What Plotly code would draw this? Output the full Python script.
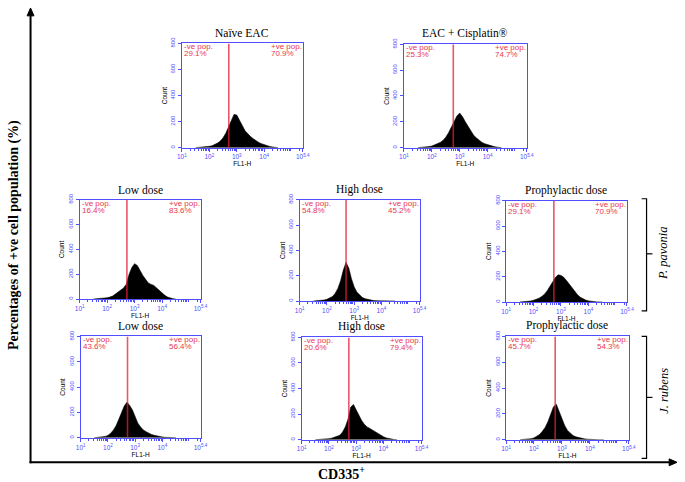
import plotly.graph_objects as go

W, H = 685, 482

# ---------------- data ----------------
BIN_LOG = [1.5, 1.6, 1.7, 1.8, 1.9, 2.0, 2.1, 2.2, 2.3, 2.4, 2.5, 2.6, 2.7, 2.8, 2.9, 3.0,
           3.1, 3.2, 3.3, 3.4, 3.5, 3.6, 3.7, 3.8, 3.9, 4.0, 4.1, 4.2, 4.3, 4.4, 4.5]

PANEL_TITLES = ["Naïve EAC", "EAC + Cisplatin®", "Low dose", "High dose",
                "Prophylactic dose", "Low dose", "High dose", "Prophylactic dose"]
NEG_PCT = ["29.1%", "25.3%", "16.4%", "54.8%", "29.1%", "43.6%", "20.6%", "45.7%"]
POS_PCT = ["70.9%", "74.7%", "83.6%", "45.2%", "70.9%", "56.4%", "79.4%", "54.3%"]
GATE_LOG = [2.71, 2.77, 2.72, 2.70, 2.74, 2.72, 2.73, 2.76]

COUNTS_NAIVE = [0, 1, 2, 4, 6, 10, 14, 22, 35, 50, 75, 110, 160, 215, 255, 250,
                215, 170, 130, 105, 85, 68, 52, 40, 30, 22, 14, 9, 5, 2, 0]
COUNTS_CISPLATIN = [0, 1, 2, 4, 8, 12, 20, 28, 40, 55, 80, 115, 160, 205, 245, 268,
                    240, 200, 165, 125, 95, 75, 55, 40, 30, 22, 16, 10, 5, 2, 0]
COUNTS_PP_LOW = [0, 1, 2, 4, 6, 10, 16, 24, 40, 55, 70, 90, 120, 200, 255, 285,
                 270, 225, 190, 160, 130, 118, 110, 90, 68, 48, 30, 16, 7, 2, 0]
COUNTS_PP_HIGH = [0, 1, 2, 5, 8, 14, 22, 35, 60, 100, 160, 245, 305, 260, 175, 110,
                  70, 45, 28, 18, 12, 7, 4, 2, 1, 1, 0, 0, 0, 0, 0]
COUNTS_PP_PROPH = [0, 1, 2, 4, 8, 14, 20, 30, 44, 62, 90, 120, 160, 195, 215, 210,
                   195, 170, 140, 110, 82, 58, 38, 25, 15, 9, 5, 2, 1, 0, 0]
COUNTS_JR_LOW = [0, 1, 3, 6, 10, 18, 35, 60, 95, 145, 200, 250, 280, 255, 220, 165,
                 115, 85, 62, 48, 36, 26, 19, 13, 9, 6, 3, 1, 0, 0, 0]
COUNTS_JR_HIGH = [0, 1, 2, 3, 5, 8, 12, 18, 25, 35, 60, 100, 160, 255, 275, 230,
                  190, 150, 120, 100, 88, 75, 60, 46, 35, 24, 14, 8, 4, 1, 0]
COUNTS_JR_PROPH = [0, 1, 2, 4, 8, 14, 25, 40, 65, 95, 140, 195, 255, 275, 220, 155,
                   110, 72, 48, 32, 22, 15, 10, 7, 4, 2, 1, 0, 0, 0, 0]

ALL_COUNTS = [COUNTS_NAIVE, COUNTS_CISPLATIN, COUNTS_PP_LOW, COUNTS_PP_HIGH,
              COUNTS_PP_PROPH, COUNTS_JR_LOW, COUNTS_JR_HIGH, COUNTS_JR_PROPH]

Y_TICKS = [0, 200, 400, 600, 800]
X_TICK_EXP = [1, 2, 3, 4, 5.4]
X_TICK_TEXT = ["10<sup>1</sup>", "10<sup>2</sup>", "10<sup>3</sup>", "10<sup>4</sup>", "10<sup>5.4</sup>"]

# ---------------- layout (pixel boxes: left, right, top, bottom) ----------------
PANEL_BOX = [(180, 303, 37, 143), (406, 531, 38, 143),
             (76, 199, 196, 297), (300, 422, 196, 299), (510, 633, 197, 300),
             (77, 199, 335, 438), (302, 424, 336, 440), (510, 635, 335, 440)]

BLUE = "#4f4fff"
RED = "rgba(228,30,55,0.75)"
RED_TXT = "#e8364f"


def px(x):
    return x / W


def py(y):
    return 1 - y / H


minor_vals = [k * 10 ** e for e in range(1, 6) for k in range(2, 10) if k * 10 ** e < 10 ** 5.4]

fig = go.Figure()
annotations = []
shapes = []

for i, (counts, box) in enumerate(zip(ALL_COUNTS, PANEL_BOX)):
    n = i + 1
    xa = "x" if n == 1 else f"x{n}"
    ya = "y" if n == 1 else f"y{n}"
    l, r, t, b = box
    fig.add_trace(go.Scatter(
        x=[10 ** v for v in BIN_LOG], y=counts, mode="lines",
        line=dict(color="black", width=0.6), fill="tozeroy", fillcolor="black",
        xaxis=xa, yaxis=ya, showlegend=False, hoverinfo="skip"))
    g = 10 ** GATE_LOG[i]
    fig.add_trace(go.Scatter(
        x=[g, g], y=[0, 800], mode="lines", line=dict(color=RED, width=1.6),
        xaxis=xa, yaxis=ya, showlegend=False, hoverinfo="skip"))

    xkey = "xaxis" if n == 1 else f"xaxis{n}"
    ykey = "yaxis" if n == 1 else f"yaxis{n}"
    fig.update_layout(**{
        xkey: dict(domain=[px(l), px(r)], anchor=ya, type="log", range=[1, 5.4],
                   tickvals=[10 ** e for e in X_TICK_EXP], ticktext=X_TICK_TEXT,
                   ticks="outside", ticklen=3, tickcolor=BLUE, tickwidth=1,
                   tickfont=dict(family="Liberation Sans", size=6.5, color=BLUE),
                   minor=dict(tickvals=minor_vals, ticks="outside", ticklen=2,
                              tickcolor=BLUE, tickwidth=1),
                   showline=True, mirror=True, linecolor=BLUE, linewidth=1,
                   showgrid=False, zeroline=False,
                   title=dict(text="FL1-H", font=dict(family="Liberation Sans", size=6.5, color="black"),
                              standoff=1)),
        ykey: dict(domain=[py(b), py(t)], anchor=xa, range=[0, 800],
                   tickvals=Y_TICKS, ticks="outside", ticklen=3, tickcolor=BLUE,
                   tickangle=-90,
                   tickfont=dict(family="Liberation Sans", size=6, color=BLUE),
                   showline=True, mirror=True, linecolor=BLUE, linewidth=1,
                   showgrid=False, zeroline=False,
                   title=dict(text="Count", font=dict(family="Liberation Sans", size=6.5, color="black"),
                              standoff=2)),
    })

    # panel title
    annotations.append(dict(x=px((l + r) / 2), y=py(t - 3), xref="paper", yref="paper",
                            text=PANEL_TITLES[i], showarrow=False, xanchor="center", yanchor="bottom",
                            font=dict(family="Liberation Serif", size=11.5, color="black"),
                            borderpad=0))
    # gate labels
    for txt, dy in (("-ve pop.", 0), (NEG_PCT[i], 7)):
        annotations.append(dict(x=px(l + 1), y=py(t - 2 + dy), xref="paper", yref="paper",
                                text=txt, showarrow=False, xanchor="left", yanchor="top",
                                font=dict(family="Liberation Sans", size=8, color=RED_TXT),
                                borderpad=0))
    for txt, dy in (("+ve pop.", 0), (POS_PCT[i], 7)):
        annotations.append(dict(x=px(r - 33), y=py(t - 2 + dy), xref="paper", yref="paper",
                                text=txt, showarrow=False, xanchor="left", yanchor="top",
                                font=dict(family="Liberation Sans", size=8, color=RED_TXT),
                                borderpad=0))

# outer axes with arrows
shapes.append(dict(type="line", xref="paper", yref="paper", x0=px(26), x1=px(26),
                   y0=py(464), y1=py(7), line=dict(color="black", width=2)))
shapes.append(dict(type="path", xref="paper", yref="paper",
                   path=f"M {px(22.5)} {py(9)} L {px(26)} {py(1)} L {px(29.5)} {py(9)} Z",
                   fillcolor="black", line=dict(color="black", width=1)))
shapes.append(dict(type="line", xref="paper", yref="paper", x0=px(25), x1=px(678),
                   y0=py(463), y1=py(463), line=dict(color="black", width=2)))
shapes.append(dict(type="path", xref="paper", yref="paper",
                   path=f"M {px(676)} {py(459.5)} L {px(684)} {py(463)} L {px(676)} {py(466.5)} Z",
                   fillcolor="black", line=dict(color="black", width=1)))

annotations.append(dict(x=px(9), y=py(232), xref="paper", yref="paper",
                        text="<b>Percentages of +ve cell population (%)</b>", showarrow=False,
                        textangle=-90, xanchor="center", yanchor="middle",
                        font=dict(family="Liberation Serif", size=14, color="black")))
annotations.append(dict(x=px(342), y=py(474), xref="paper", yref="paper",
                        text="<b>CD335<sup>+</sup></b>", showarrow=False,
                        xanchor="center", yanchor="middle",
                        font=dict(family="Liberation Serif", size=14, color="black")))

# brackets
for top, bot, mid, label, ly in ((195, 309, 251, "<i>P. pavonia</i>", 250),
                                 (335, 459, 397, "<i>J. rubens</i>", 390)):
    path = (f"M {px(648)} {py(top)} L {px(653)} {py(top)} L {px(653)} {py(bot)} "
            f"L {px(648)} {py(bot)}")
    shapes.append(dict(type="path", xref="paper", yref="paper", path=path,
                       line=dict(color="black", width=1.2)))
    shapes.append(dict(type="line", xref="paper", yref="paper", x0=px(653), x1=px(659),
                       y0=py(mid), y1=py(mid), line=dict(color="black", width=1.2)))
    annotations.append(dict(x=px(670), y=py(ly), xref="paper", yref="paper", text=label,
                            showarrow=False, textangle=-90, xanchor="center", yanchor="middle",
                            font=dict(family="Liberation Serif", size=12.5, color="black")))

fig.update_layout(width=W, height=H, autosize=False, margin=dict(l=0, r=0, t=0, b=0),
                  paper_bgcolor="white", plot_bgcolor="white",
                  annotations=annotations, shapes=shapes)

fig.write_html("out.html", config={"displayModeBar": False},
               post_script="document.body.style.margin='0px';document.body.style.padding='0px';")
